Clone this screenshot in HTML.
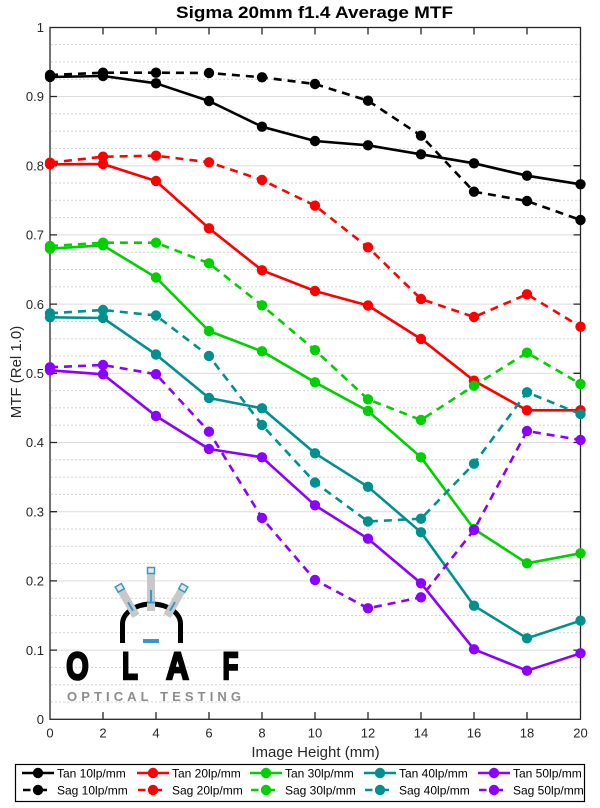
<!DOCTYPE html>
<html>
<head>
<meta charset="utf-8">
<style>
html,body{margin:0;padding:0;background:#fff;}
svg{display:block;font-family:"Liberation Sans",Arial,sans-serif;}
</style>
</head>
<body>
<svg width="600" height="808" viewBox="0 0 600 808" xmlns="http://www.w3.org/2000/svg">
<defs>
<marker id="mk" viewBox="0 0 12 12" refX="6" refY="6" markerWidth="12" markerHeight="12" markerUnits="userSpaceOnUse"><circle cx="6" cy="6" r="5.2" fill="#000"/></marker>
<marker id="mr" viewBox="0 0 12 12" refX="6" refY="6" markerWidth="12" markerHeight="12" markerUnits="userSpaceOnUse"><circle cx="6" cy="6" r="5.2" fill="#ff0000"/></marker>
<marker id="mg" viewBox="0 0 12 12" refX="6" refY="6" markerWidth="12" markerHeight="12" markerUnits="userSpaceOnUse"><circle cx="6" cy="6" r="5.2" fill="#00d000"/></marker>
<marker id="mt" viewBox="0 0 12 12" refX="6" refY="6" markerWidth="12" markerHeight="12" markerUnits="userSpaceOnUse"><circle cx="6" cy="6" r="5.2" fill="#009090"/></marker>
<marker id="mp" viewBox="0 0 12 12" refX="6" refY="6" markerWidth="12" markerHeight="12" markerUnits="userSpaceOnUse"><circle cx="6" cy="6" r="5.2" fill="#8c00ff"/></marker>
</defs>

<!-- title -->
<text x="314.5" y="18" text-anchor="middle" font-size="17" font-weight="bold" fill="#000" textLength="277" lengthAdjust="spacingAndGlyphs">Sigma 20mm f1.4 Average MTF</text>

<!-- minor grid -->
<path fill="none" stroke="#d2d2d2" stroke-width="1" stroke-dasharray="2,2"
d="M51 702H580 M51 684.7H580 M51 667.4H580
M51 632.8H580 M51 615.5H580 M51 598.2H580
M51 563.6H580 M51 546.3H580 M51 529H580
M51 494.4H580 M51 477.1H580 M51 459.8H580
M51 425.2H580 M51 407.9H580 M51 390.6H580
M51 356H580 M51 338.7H580 M51 321.4H580
M51 286.8H580 M51 269.5H580 M51 252.2H580
M51 217.6H580 M51 200.3H580 M51 183H580
M51 148.4H580 M51 131.1H580 M51 113.8H580
M51 79.2H580 M51 61.9H580 M51 44.6H580"/>
<!-- major grid -->
<path fill="none" stroke="#dcdcdc" stroke-width="1"
d="M51 650.1H580 M51 580.9H580 M51 511.7H580 M51 442.5H580 M51 373.3H580 M51 304.1H580 M51 234.9H580 M51 165.7H580 M51 96.5H580"/>

<!-- OLAF logo -->
<g>
  <path d="M122.5 643 L122.5 624 A29 20 0 0 1 180.5 624 L180.5 643" fill="none" stroke="#000" stroke-width="5"/>
  <rect x="143" y="639" width="16" height="4" fill="#3399cc"/>
  <rect x="147" y="570" width="8" height="41" fill="#c8c8c8"/>
  <rect x="147.5" y="567.5" width="7" height="6" fill="#e8e8e8" stroke="#3399cc" stroke-width="1.5"/>
  <rect x="150" y="590" width="2" height="12" fill="#3399cc"/>
  <rect x="147" y="601.5" width="8" height="2" fill="#3399cc"/>
  <g transform="rotate(-30 136 616)">
    <rect x="132" y="583" width="8" height="33" fill="#c8c8c8"/>
    <rect x="132.5" y="580.5" width="7" height="6" fill="#e8e8e8" stroke="#3399cc" stroke-width="1.5"/>
    <rect x="135" y="600" width="2" height="10" fill="#3399cc"/>
  </g>
  <g transform="rotate(30 167 616)">
    <rect x="163" y="583" width="8" height="33" fill="#c8c8c8"/>
    <rect x="163.5" y="580.5" width="7" height="6" fill="#e8e8e8" stroke="#3399cc" stroke-width="1.5"/>
    <rect x="166" y="600" width="2" height="10" fill="#3399cc"/>
  </g>
  <g font-size="39" font-weight="bold" fill="#000" stroke="#000" stroke-width="2.6" stroke-linejoin="miter" text-anchor="middle">
    <text transform="translate(77.5 679) scale(0.74 0.98)">O</text>
    <text transform="translate(130 679) scale(0.66 0.98)">L</text>
    <text transform="translate(177.5 679) scale(0.8 0.98)">A</text>
    <text transform="translate(230.5 679) scale(0.66 0.98)">F</text>
  </g>
  <text x="67" y="701" font-size="13" font-weight="bold" fill="#8c8c8c" textLength="174" lengthAdjust="spacing">OPTICAL TESTING</text>
</g>

<!-- axes frame -->
<rect x="50" y="27.5" width="530.5" height="691.8" fill="none" stroke="#262626" stroke-width="1.3"/>
<path fill="none" stroke="#262626" stroke-width="1.3"
d="M103 719V712 M156 719V712 M209 719V712 M262 719V712 M315 719V712 M368 719V712 M421 719V712 M474 719V712 M527 719V712
M103 27.5V34.5 M156 27.5V34.5 M209 27.5V34.5 M262 27.5V34.5 M315 27.5V34.5 M368 27.5V34.5 M421 27.5V34.5 M474 27.5V34.5 M527 27.5V34.5
M50 650.1H57 M50 580.9H57 M50 511.7H57 M50 442.5H57 M50 373.3H57 M50 304.1H57 M50 234.9H57 M50 165.7H57 M50 96.5H57
M580.5 650.1H573.5 M580.5 580.9H573.5 M580.5 511.7H573.5 M580.5 442.5H573.5 M580.5 373.3H573.5 M580.5 304.1H573.5 M580.5 234.9H573.5 M580.5 165.7H573.5 M580.5 96.5H573.5"/>

<g font-size="13" fill="#262626" text-anchor="end">
<text x="44" y="724">0</text>
<text x="44" y="655">0.1</text>
<text x="44" y="585.5">0.2</text>
<text x="44" y="516.5">0.3</text>
<text x="44" y="447">0.4</text>
<text x="44" y="378">0.5</text>
<text x="44" y="309">0.6</text>
<text x="44" y="239.5">0.7</text>
<text x="44" y="170.5">0.8</text>
<text x="44" y="101">0.9</text>
<text x="44" y="32">1</text>
</g>
<g font-size="13" fill="#262626" text-anchor="middle">
<text x="50" y="737.5">0</text>
<text x="103" y="737.5">2</text>
<text x="156" y="737.5">4</text>
<text x="209" y="737.5">6</text>
<text x="262" y="737.5">8</text>
<text x="315" y="737.5">10</text>
<text x="368" y="737.5">12</text>
<text x="421" y="737.5">14</text>
<text x="474" y="737.5">16</text>
<text x="527" y="737.5">18</text>
<text x="580.5" y="737.5">20</text>
</g>
<text x="315.5" y="757" font-size="15" fill="#262626" text-anchor="middle">Image Height (mm)</text>
<text transform="translate(21 372) rotate(-90)" font-size="15" fill="#262626" text-anchor="middle">MTF (Rel 1.0)</text>

<g fill="none" stroke-width="2.6" stroke-linejoin="round">
<polyline stroke="#000" marker-start="url(#mk)" marker-mid="url(#mk)" marker-end="url(#mk)"
points="50,77 103,76 156,83.3 209,101 262,126.7 315,141 368,145.3 421,154.3 474,163.3 527,175.7 580.5,184.3"/>
<polyline stroke="#000" stroke-dasharray="8,6" marker-start="url(#mk)" marker-mid="url(#mk)" marker-end="url(#mk)"
points="50,75 103,72.7 156,72.7 209,73 262,77.3 315,84 368,100.7 421,135.7 474,191.7 527,201 580.5,220"/>
<polyline stroke="#ff0000" marker-start="url(#mr)" marker-mid="url(#mr)" marker-end="url(#mr)"
points="50,164.3 103,164 156,181 209,228.3 262,270.3 315,291 368,305.5 421,339 474,380.7 527,410.3 580.5,410.3"/>
<polyline stroke="#ff0000" stroke-dasharray="8,6" marker-start="url(#mr)" marker-mid="url(#mr)" marker-end="url(#mr)"
points="50,162.7 103,156.7 156,155.7 209,162.3 262,180 315,205.7 368,247.3 421,299 474,317 527,294.3 580.5,326.7"/>
<polyline stroke="#00d000" marker-start="url(#mg)" marker-mid="url(#mg)" marker-end="url(#mg)"
points="50,248.7 103,245.3 156,277.5 209,331 262,351.3 315,382.3 368,411 421,457.3 474,529 527,563.3 580.5,553.3"/>
<polyline stroke="#00d000" stroke-dasharray="8,6" marker-start="url(#mg)" marker-mid="url(#mg)" marker-end="url(#mg)"
points="50,246 103,242.7 156,242.7 209,263.3 262,305.3 315,350.2 368,399.3 421,420 474,385.7 527,352.7 580.5,384"/>
<polyline stroke="#009090" marker-start="url(#mt)" marker-mid="url(#mt)" marker-end="url(#mt)"
points="50,317.3 103,318 156,354.5 209,398 262,408.3 315,453.3 368,486.8 421,532.3 474,605.7 527,638.3 580.5,620.7"/>
<polyline stroke="#009090" stroke-dasharray="8,6" marker-start="url(#mt)" marker-mid="url(#mt)" marker-end="url(#mt)"
points="50,313.3 103,310 156,315.5 209,356 262,425 315,482.5 368,521.5 421,518.7 474,463.7 527,392.3 580.5,414"/>
<polyline stroke="#8c00ff" marker-start="url(#mp)" marker-mid="url(#mp)" marker-end="url(#mp)"
points="50,370.3 103,374.3 156,416 209,449 262,457.3 315,505.3 368,538.7 421,583.3 474,649.3 527,670.7 580.5,653.3"/>
<polyline stroke="#8c00ff" stroke-dasharray="8,6" marker-start="url(#mp)" marker-mid="url(#mp)" marker-end="url(#mp)"
points="50,367.3 103,365 156,374.2 209,431.7 262,518 315,580 368,608.3 421,597.3 474,530 527,431 580.5,440"/>
</g>

<rect x="15.5" y="764.5" width="569" height="37" fill="#fff" stroke="#000" stroke-width="1.2"/>
<g stroke-width="2.6" fill="none">
  <path stroke="#000" d="M22 773H54 M23 790H30.5 M40 790H47"/>
  <path stroke="#ff0000" d="M137 773H169 M138 790H145.5 M155 790H162"/>
  <path stroke="#00d000" d="M250 773H282 M251 790H258.5 M268 790H275"/>
  <path stroke="#009090" d="M364 773H396 M365 790H372.5 M382 790H389"/>
  <path stroke="#8c00ff" d="M478 773H510 M479 790H486.5 M496 790H503"/>
</g>
<g>
  <circle cx="38" cy="773" r="5.2" fill="#000"/><circle cx="38" cy="790" r="5.2" fill="#000"/>
  <circle cx="153" cy="773" r="5.2" fill="#ff0000"/><circle cx="153" cy="790" r="5.2" fill="#ff0000"/>
  <circle cx="266" cy="773" r="5.2" fill="#00d000"/><circle cx="266" cy="790" r="5.2" fill="#00d000"/>
  <circle cx="380" cy="773" r="5.2" fill="#009090"/><circle cx="380" cy="790" r="5.2" fill="#009090"/>
  <circle cx="494" cy="773" r="5.2" fill="#8c00ff"/><circle cx="494" cy="790" r="5.2" fill="#8c00ff"/>
</g>
<g font-size="12" fill="#000">
  <text x="57" y="777.5">Tan 10lp/mm</text>
  <text x="57" y="794.5">Sag 10lp/mm</text>
  <text x="172" y="777.5">Tan 20lp/mm</text>
  <text x="172" y="794.5">Sag 20lp/mm</text>
  <text x="285" y="777.5">Tan 30lp/mm</text>
  <text x="285" y="794.5">Sag 30lp/mm</text>
  <text x="399" y="777.5">Tan 40lp/mm</text>
  <text x="399" y="794.5">Sag 40lp/mm</text>
  <text x="513" y="777.5">Tan 50lp/mm</text>
  <text x="513" y="794.5">Sag 50lp/mm</text>
</g>
</svg>
</body>
</html>
